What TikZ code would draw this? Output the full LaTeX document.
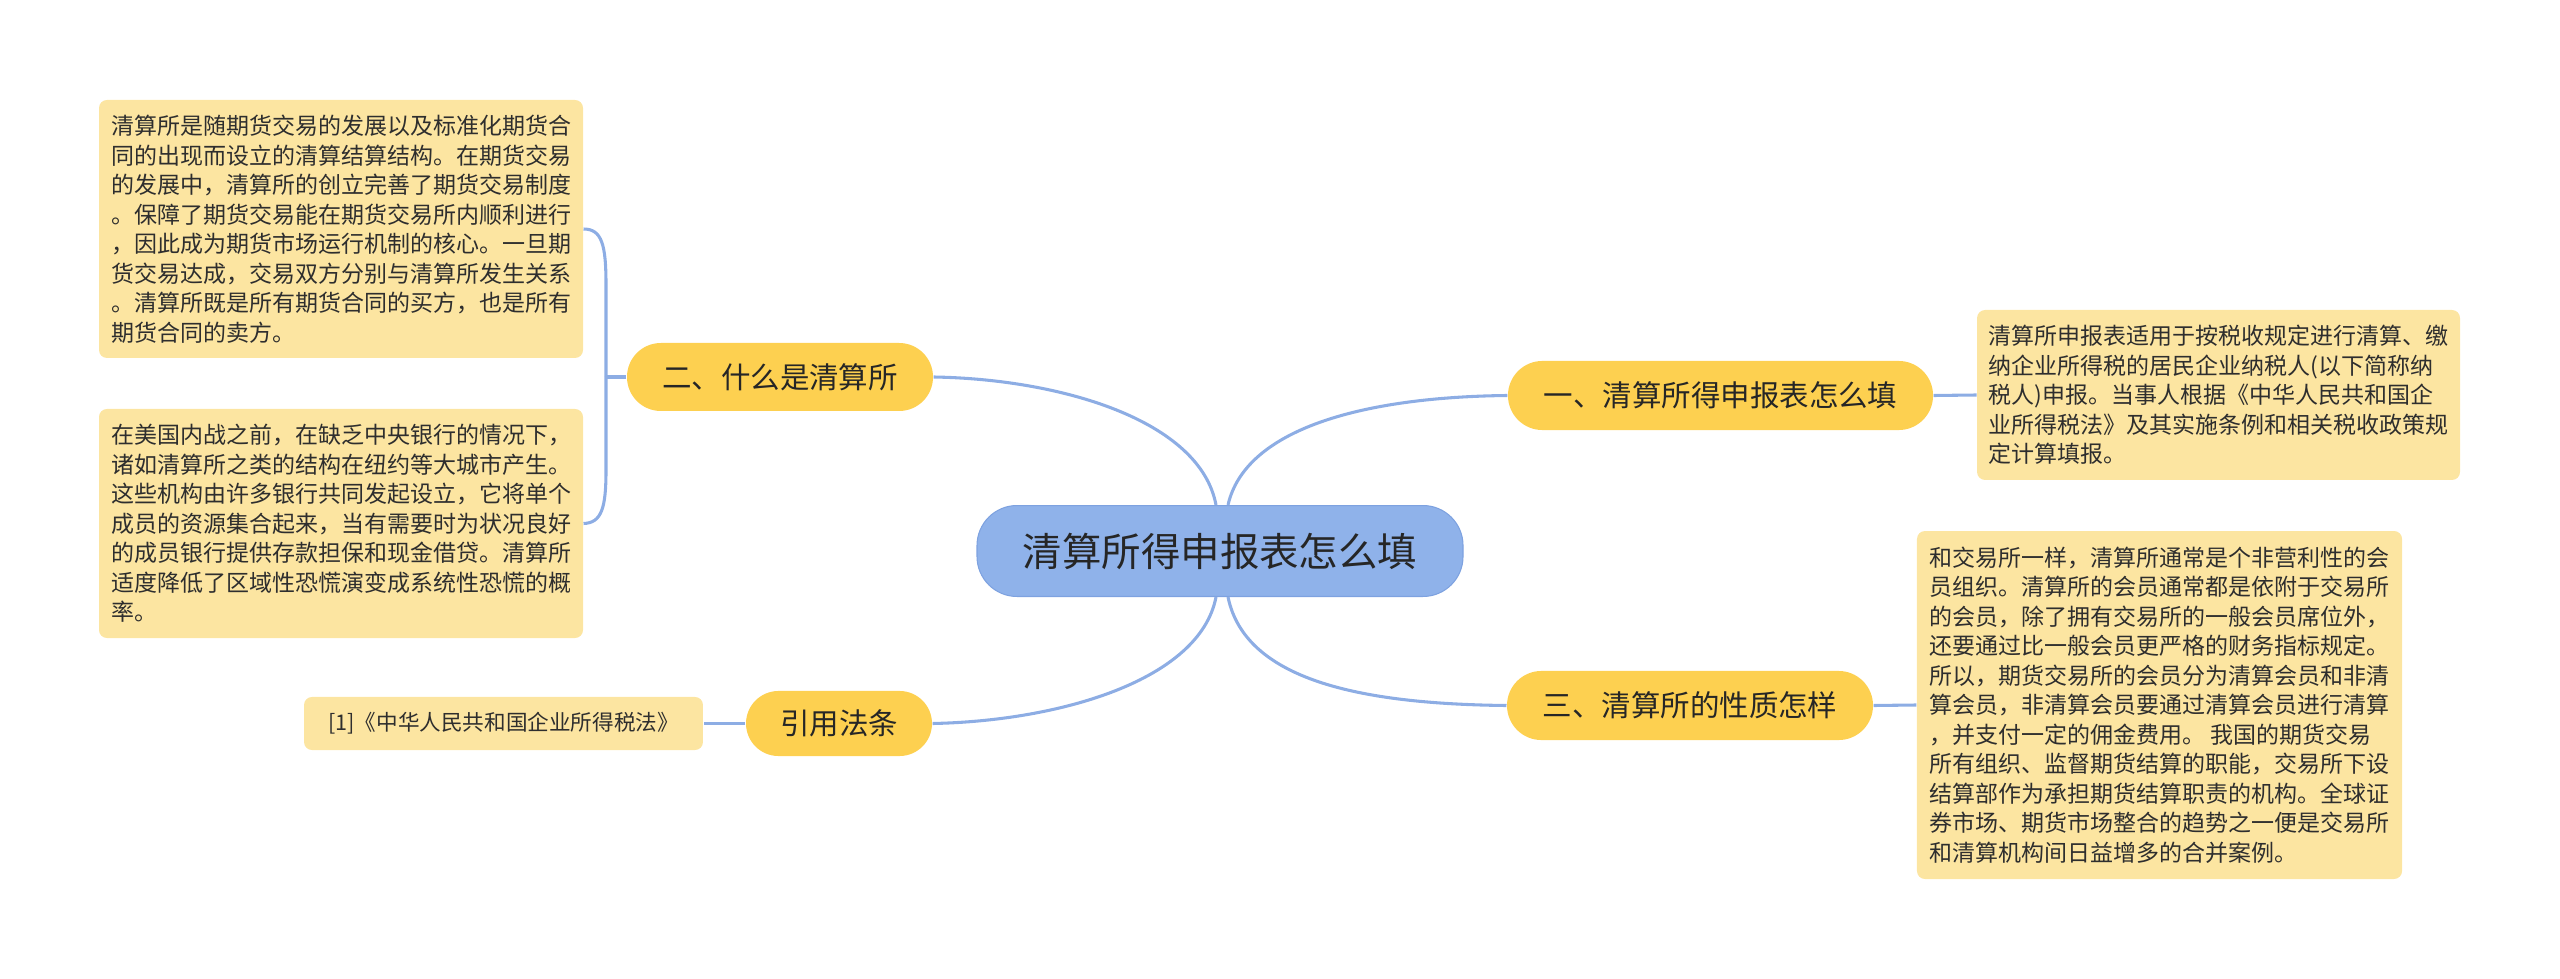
\documentclass[tikz,border=0pt]{standalone}
\usepackage{fontspec}
\setmainfont{Noto Sans CJK SC}
\definecolor{leaffill}{HTML}{FCE5A1}
\definecolor{branchfill}{HTML}{FDD050}
\definecolor{centerfill}{HTML}{8FB2EA}
\definecolor{centerdraw}{HTML}{7EA2E0}
\definecolor{linkcol}{HTML}{8DADE4}
\definecolor{txt}{HTML}{2E2E2E}
\tikzset{
  leaf/.style={fill=leaffill, rounded corners=3pt, inner sep=0pt, align=left, text=txt,
    font=\fontsize{8.625pt}{11.06pt}\selectfont},
  branch/.style={fill=branchfill, rounded corners=12.9pt, inner sep=0pt, text=black!85,
    minimum height=25.9pt, font=\fontsize{11.06pt}{13pt}\selectfont},
  root/.style={fill=centerfill, draw=centerdraw, line width=0.4pt, rounded corners=15pt, inner sep=0pt,
    text=black!85, font=\fontsize{14.8pt}{17pt}\selectfont},
  link/.style={draw=linkcol, line width=1.15pt}
}
\begin{document}
\begin{tikzpicture}[x=0.375pt,y=-0.375pt]
\useasboundingbox (0,0) rectangle (2560,979);
% nodes
\node[root, minimum width=182.25pt, minimum height=34.1pt] (c) at (1220,551) {清算所得申报表怎么填};
\node[branch, minimum width=159.4pt] (b1) at (1720.5,395.5) {一、清算所得申报表怎么填};
\node[branch, minimum width=137.25pt] (b3) at (1690,705.5) {三、清算所的性质怎样};
\node[branch, minimum width=114.75pt, minimum height=25.5pt, rounded corners=12.7pt] (b2) at (780,377) {二、什么是清算所};
\node[branch, minimum width=69.75pt, minimum height=24.4pt, rounded corners=12.2pt] (b4) at (839,723.5) {引用法条};
\node[leaf, minimum width=181.5pt, minimum height=96.75pt] (l1) at (341,229) {清算所是随期货交易的发展以及标准化期货合\\同的出现而设立的清算结算结构。在期货交易\\的发展中，清算所的创立完善了期货交易制度\\。保障了期货交易能在期货交易所内顺利进行\\，因此成为期货市场运行机制的核心。一旦期\\货交易达成，交易双方分别与清算所发生关系\\。清算所既是所有期货合同的买方，也是所有\\期货合同的卖方。};
\node[leaf, minimum width=181.5pt, minimum height=85.9pt] (l2) at (341,523.5) {在美国内战之前，在缺乏中央银行的情况下，\\诸如清算所之类的结构在纽约等大城市产生。\\这些机构由许多银行共同发起设立，它将单个\\成员的资源集合起来，当有需要时为状况良好\\的成员银行提供存款担保和现金借贷。清算所\\适度降低了区域性恐慌演变成系统性恐慌的概\\率。};
\node[leaf, minimum width=181.1pt, minimum height=63.75pt] (r1) at (2218.5,395) {清算所申报表适用于按税收规定进行清算、缴\\纳企业所得税的居民企业纳税人(以下简称纳\\税人)申报。当事人根据《中华人民共和国企\\业所得税法》及其实施条例和相关税收政策规\\定计算填报。};
\node[leaf, minimum width=181.9pt, minimum height=130.5pt] (r3) at (2159.5,705) {和交易所一样，清算所通常是个非营利性的会\\员组织。清算所的会员通常都是依附于交易所\\的会员，除了拥有交易所的一般会员席位外，\\还要通过比一般会员更严格的财务指标规定。\\所以，期货交易所的会员分为清算会员和非清\\算会员，非清算会员要通过清算会员进行清算\\，并支付一定的佣金费用。 我国的期货交易\\所有组织、监督期货结算的职能，交易所下设\\结算部作为承担期货结算职责的机构。全球证\\券市场、期货市场整合的趋势之一便是交易所\\和清算机构间日益增多的合并案例。};
\node[leaf, minimum width=149.6pt, minimum height=19.9pt, font=\fontsize{8.1pt}{10pt}\selectfont] (ref) at (503.5,723.5) {[1]《中华人民共和国企业所得税法》};
% connectors from root
\draw[link] ([xshift=-1.5pt]c.north) .. controls (1200,420) and (1060,379) .. (b2.east);
\draw[link] ([xshift=3pt]c.north) .. controls (1245,430) and (1360,397) .. (b1.west);
\draw[link] ([xshift=-1.5pt]c.south) .. controls (1200,680) and (1060,721) .. (b4.east);
\draw[link] ([xshift=3pt]c.south) .. controls (1245,680) and (1360,704) .. (b3.west);
% branch to leaves
\draw[link] (b1.east) -- (r1.west);
\draw[link] (b3.east) -- (r3.west);
\draw[link] (b4.west) -- (ref.east);
\coordinate (brk) at (606,377);
\draw[link] (b2.west) -- (brk);
\draw[link] (l1.east) .. controls (602,229) and (606,245) .. (606,285) -- (brk);
\draw[link] (l2.east) .. controls (602,523) and (606,507) .. (606,470) -- (brk);
\end{tikzpicture}
\end{document}
